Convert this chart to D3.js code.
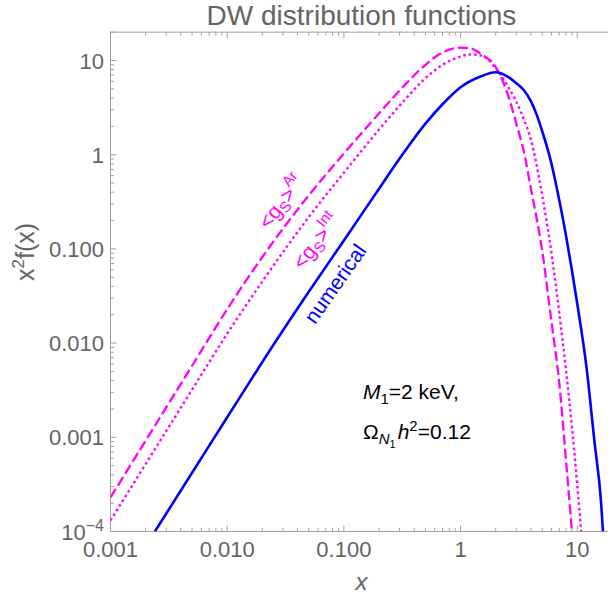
<!DOCTYPE html>
<html>
<head>
<meta charset="utf-8">
<script src="https://cdn.jsdelivr.net/npm/d3@7"></script>
<style>
  body { margin: 0; background: #fff; }
  svg { display: block; font-family: "Liberation Sans", Arial, sans-serif; }
</style>
</head>
<body>
<svg id="chart" width="608" height="597"></svg>
<script>
// valeurs
var xAr  = [0.001, 0.002, 0.005, 0.01, 0.02, 0.05, 0.1, 0.2, 0.3, 0.5, 0.7, 1, 1.2, 1.5, 2, 2.5, 3, 3.5, 4, 5, 6, 7, 8, 9];
var yAr  = [2.3e-4, 9.2e-4, 5.75e-3, 0.0229, 0.082, 0.37, 1.03, 2.75, 4.8, 9.0, 12.2, 13.7, 13.5, 11.7, 8.5, 4.6, 2.14, 1.05, 0.44, 0.096, 0.017, 3.8e-3, 5.7e-4, 1.0e-4];

var xInt = [0.001, 0.002, 0.005, 0.01, 0.02, 0.05, 0.1, 0.2, 0.3, 0.5, 0.7, 1, 1.2, 1.5, 2, 2.5, 3, 3.5, 4, 5, 6, 7, 8, 9, 10, 10.8];
var yInt = [1.31e-4, 5.2e-4, 3.2e-3, 0.0126, 0.0451, 0.218, 0.644, 1.85, 3.31, 6.5, 9.0, 11.0, 11.6, 11.3, 8.3, 5.5, 3.65, 2.34, 1.45, 0.37, 0.092, 0.021, 5.2e-3, 1.28e-3, 3.1e-4, 1.0e-4];

var xNum = [0.0024, 0.005, 0.01, 0.02, 0.05, 0.1, 0.2, 0.3, 0.5, 0.7, 1, 1.5, 2, 2.5, 3, 3.5, 4, 4.5, 5, 6, 7, 8, 9, 10, 12, 14, 16, 16.6];
var yNum = [1e-4, 4.2e-4, 1.63e-3, 6.3e-3, 0.035, 0.123, 0.435, 0.91, 2.14, 3.43, 5.2, 6.8, 7.5, 6.8, 5.75, 4.8, 3.7, 2.63, 1.78, 0.81, 0.33, 0.139, 0.059, 0.026, 5.5e-3, 9.2e-4, 2.0e-4, 1e-4];

var xTicks = [0.001, 0.01, 0.1, 1, 10];
var xTickLabels = ["0.001", "0.010", "0.100", "1", "10"];
var yTicks = [1e-4, 0.001, 0.01, 0.1, 1, 10];
var yTickLabels = ["10^-4", "0.001", "0.010", "0.100", "1", "10"];

var pLeft = 110.5, pBottom = 531.5;
var x = d3.scaleLog().domain([0.001, 20]).range([pLeft, pLeft + 116.7 * Math.log10(20000)]);
var y = d3.scaleLog().domain([1e-4, 20]).range([pBottom, pBottom - 94.2 * Math.log10(200000)]);
var pRight = x.range()[1], pTop = y.range()[1];

var svg = d3.select("#chart");
var grey = "#a0a0a0", labelCol = "#646464";

svg.append("defs").append("clipPath").attr("id", "clip")
    .append("rect")
    .attr("x", pLeft).attr("y", pTop)
    .attr("width", pRight - pLeft).attr("height", pBottom - pTop);

// cadre
svg.append("rect")
    .attr("x", pLeft).attr("y", pTop)
    .attr("width", pRight - pLeft).attr("height", pBottom - pTop)
    .attr("fill", "none").attr("stroke", grey).attr("stroke-width", 1);

// graduations mineures / majeures
function ticksOf(lo, hi) {
    var out = [];
    for (var e = -5; e <= 2; e++)
        for (var m = 1; m <= 9; m++) {
            var v = m * Math.pow(10, e);
            if (v >= lo * 0.999 && v <= hi) out.push({v: v, major: m == 1});
        }
    return out;
}
var gt = svg.append("g").attr("stroke", grey).attr("stroke-width", 1);
ticksOf(0.001, 20).forEach(function(t) {
    var px = x(t.v), len = t.major ? 6 : 3.5;
    gt.append("line").attr("x1", px).attr("x2", px).attr("y1", pBottom).attr("y2", pBottom - len);
    gt.append("line").attr("x1", px).attr("x2", px).attr("y1", pTop).attr("y2", pTop + len);
});
ticksOf(1e-4, 20).forEach(function(t) {
    var py = y(t.v), len = t.major ? 6 : 3.5;
    gt.append("line").attr("x1", pLeft).attr("x2", pLeft + len).attr("y1", py).attr("y2", py);
});

// étiquettes des axes
svg.append("g").selectAll("text")
    .data(xTicks)
    .enter().append("text")
    .attr("x", function(d) { return x(d); })
    .attr("y", 557)
    .attr("text-anchor", "middle")
    .attr("font-size", "22px")
    .attr("fill", labelCol)
    .text(function(d, i) { return xTickLabels[i]; });

var yl = svg.append("g").selectAll("text")
    .data(yTicks)
    .enter().append("text")
    .attr("x", 104)
    .attr("y", function(d) { return y(d) + 8; })
    .attr("text-anchor", "end")
    .attr("font-size", "22px")
    .attr("fill", labelCol);
yl.each(function(d, i) {
    var t = d3.select(this), lab = yTickLabels[i];
    if (lab.indexOf("^") > 0) {
        var p = lab.split("^");
        t.append("tspan").text(p[0]);
        t.append("tspan").attr("dy", -9).attr("font-size", "16px").text(p[1].replace("-", "\u2212"));
    } else t.text(lab);
});

// titre
svg.append("text")
    .attr("x", (pLeft + pRight) / 2).attr("y", 25)
    .attr("text-anchor", "middle")
    .attr("font-size", "28px")
    .attr("fill", labelCol)
    .text("DW distribution functions");

svg.append("text")
    .attr("x", (pLeft + pRight) / 2).attr("y", 590)
    .attr("text-anchor", "middle")
    .attr("font-size", "24px")
    .attr("font-style", "italic")
    .attr("fill", labelCol)
    .text("x");

var ylab = svg.append("text")
    .attr("transform", "translate(34,252) rotate(-90)")
    .attr("text-anchor", "middle")
    .attr("font-size", "25px")
    .attr("fill", labelCol);
ylab.append("tspan").text("x");
ylab.append("tspan").attr("dy", -10).attr("font-size", "17px").text("2");
ylab.append("tspan").attr("dy", 10).text("f(x)");

// courbes
var line = d3.line()
    .x(function(d) { return x(d[0]); })
    .y(function(d) { return y(d[1]); })
    .curve(d3.curveMonotoneX);

var curves = [
    {xs: xAr,  ys: yAr,  color: "#ff00ff", dash: "10,4", w: 2.3},
    {xs: xInt, ys: yInt, color: "#ff00ff", dash: "2.5,3", w: 2.4},
    {xs: xNum, ys: yNum, color: "#0000ff", dash: null, w: 2.6}
];

svg.append("g").attr("clip-path", "url(#clip)")
    .selectAll("path")
    .data(curves)
    .enter().append("path")
    .attr("d", function(c) { return line(c.xs.map(function(v, i) { return [v, c.ys[i]]; })); })
    .attr("fill", "none")
    .attr("stroke", function(c) { return c.color; })
    .attr("stroke-width", function(c) { return c.w; })
    .attr("stroke-dasharray", function(c) { return c.dash; });

// étiquettes des courbes
function gsLabel(px, py, ang, sup) {
    var t = svg.append("text")
        .attr("transform", "translate(" + px + "," + py + ") rotate(" + ang + ")")
        .attr("font-size", "21px")
        .attr("fill", "#ff00ff");
    t.append("tspan").text("<g");
    t.append("tspan").attr("dy", 4).attr("font-size", "15px").text("S");
    t.append("tspan").attr("dy", -4).text(">");
    t.append("tspan").attr("dy", -10).attr("font-size", "15px").text(sup);
}
gsLabel(x(0.0226), y(0.157), -52, "Ar");
gsLabel(x(0.0444), y(0.0587), -52, "Int");

svg.append("text")
    .attr("transform", "translate(" + x(0.0566) + "," + y(0.0155) + ") rotate(-55)")
    .attr("font-size", "21px")
    .attr("fill", "#0000ff")
    .text("numerical");

// paramètres
var p1 = svg.append("text").attr("x", 363).attr("y", 399).attr("font-size", "21px").attr("fill", "#000");
p1.append("tspan").attr("font-style", "italic").text("M");
p1.append("tspan").attr("dy", 5).attr("font-size", "15px").text("1");
p1.append("tspan").attr("dy", -5).text("=2 keV,");

var p2 = svg.append("text").attr("x", 363).attr("y", 439).attr("font-size", "21px").attr("fill", "#000");
p2.append("tspan").text("\u03a9");
p2.append("tspan").attr("dy", 5).attr("font-size", "15px").attr("font-style", "italic").text("N");
p2.append("tspan").attr("dy", 4).attr("font-size", "11px").text("1");
p2.append("tspan").attr("dy", -9).attr("dx", 2).attr("font-style", "italic").text("h");
p2.append("tspan").attr("dy", -8).attr("font-size", "15px").text("2");
p2.append("tspan").attr("dy", 8).text("=0.12");
</script>
</body>
</html>
